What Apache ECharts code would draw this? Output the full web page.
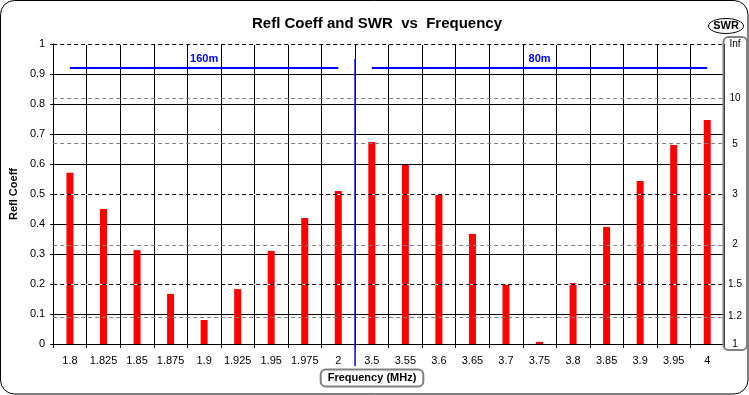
<!DOCTYPE html>
<html><head><meta charset="utf-8">
<script src="https://cdn.jsdelivr.net/npm/echarts@6/dist/echarts.min.js"></script>
<style>html,body{margin:0;padding:0;background:#fff}#c{width:749px;height:395px}</style>
</head><body><div id="c"></div>
<script>
const categories = ['1.8','1.825','1.85','1.875','1.9','1.925','1.95','1.975','2','3.5','3.55','3.6','3.65','3.7','3.75','3.8','3.85','3.9','3.95','4'];
const reflCoeff = [0.571,0.450,0.313,0.167,0.080,0.183,0.310,0.420,0.510,0.673,0.597,0.497,0.367,0.198,0.007,0.203,0.390,0.543,0.663,0.747];
const swrLabels = ['1','1.2','1.5','2','3','5','10','Inf'];
const swrValues = [1,1.2,1.5,2,3,5,10,Infinity];
const bandNames = ['160m','80m'];
const bandStart = ['1.8','3.5'];
const bandEnd = ['2','4'];
const bandLevel = 0.92;

const FONT = '"Liberation Sans", Arial, sans-serif';
const swrPos = swrValues.map(s => isFinite(s) ? (s - 1) / (s + 1) : 1);
const coincide = v => Math.abs(v * 10 - Math.round(v * 10)) < 1e-6;

const chart = echarts.init(document.getElementById('c'), null, {renderer: 'canvas'});

const swrLineData = [];
swrPos.forEach((p, i) => {
  if (coincide(p) && p > 0) {
    swrLineData.push({yAxis: p, lineStyle: {color: '#ffffff', type: 'solid', width: 1}});
  }
});
swrPos.forEach((p, i) => {
  if (p > 0) {
    swrLineData.push({yAxis: p, lineStyle: {color: coincide(p) ? '#000000' : '#808080', type: [4, 3], width: 1}});
  }
});

const bandData = bandNames.map((n, i) => [
  {coord: [bandStart[i], bandLevel], name: n},
  {coord: [bandEnd[i], bandLevel]}
]);

chart.setOption({
  animation: false,
  backgroundColor: '#ffffff',
  textStyle: {fontFamily: FONT},
  title: {
    text: 'Refl Coeff and SWR  vs  Frequency',
    left: 372, top: 11, textAlign: 'center',
    textStyle: {fontFamily: FONT, fontSize: 15, fontWeight: 'bold', color: '#000'}
  },
  grid: {left: 50, right: 25, top: 44, bottom: 51, containLabel: false},
  xAxis: {
    type: 'category', data: categories, boundaryGap: true,
    axisLine: {lineStyle: {color: '#000', width: 1}},
    axisTick: {show: true, length: 4, lineStyle: {color: '#000'}},
    axisLabel: {color: '#000', fontSize: 11, fontFamily: FONT, margin: 11, interval: 0},
    splitLine: {show: true, interval: 0, lineStyle: {color: '#000', width: 1}}
  },
  yAxis: [{
    type: 'value', min: 0, max: 1, interval: 0.1,
    name: 'Refl Coeff', nameLocation: 'middle', nameGap: 31,
    nameTextStyle: {fontWeight: 'bold', fontSize: 11, color: '#000', fontFamily: FONT},
    axisLine: {show: true, lineStyle: {color: '#000'}},
    axisTick: {show: true, length: 3, lineStyle: {color: '#000'}},
    axisLabel: {color: '#000', fontSize: 11, fontFamily: FONT, margin: 8},
    splitLine: {show: true, showMaxLine: false, lineStyle: {color: '#000', width: 1}}
  }, {
    type: 'value', min: 0, max: 1, position: 'right',
    axisLine: {show: false}, axisTick: {show: false}, splitLine: {show: false},
    axisLabel: {
      show: true, customValues: swrPos, color: '#000', fontSize: 10, fontFamily: FONT,
      align: 'center', margin: 11,
      formatter: v => { const i = swrPos.findIndex(p => Math.abs(p - v) < 1e-6); return i >= 0 ? swrLabels[i] : ''; }
    }
  }],
  series: [{
    type: 'line', data: [], z: 1, silent: true,
    markLine: {
      silent: true, symbol: ['none', 'none'], label: {show: false},
      animation: false, data: swrLineData
    }
  }, {
    type: 'bar', data: reflCoeff, barWidth: 7, z: 3,
    itemStyle: {color: '#ff0000'}, silent: true,
    markLine: {
      silent: true, symbol: ['none', 'none'], animation: false,
      lineStyle: {color: '#0000ff', width: 2, type: 'solid'},
      label: {show: true, position: 'insideMiddleTop', distance: 4, formatter: p => p.name,
        color: '#0000ff', fontWeight: 'bold', fontSize: 11, fontFamily: FONT},
      data: bandData
    }
  }]
});

const xa = chart.convertToPixel({xAxisIndex: 0}, categories[8]);
const xb = chart.convertToPixel({xAxisIndex: 0}, categories[9]);
const xSep = (xa + xb) / 2;
const yTop = chart.convertToPixel({yAxisIndex: 0}, 0.95);
const yBot = chart.convertToPixel({yAxisIndex: 0}, -0.073);
const y0 = chart.convertToPixel({yAxisIndex: 0}, 0);
const y1 = chart.convertToPixel({yAxisIndex: 0}, 1);

chart.setOption({
  graphic: [
    {id: 'outer', type: 'rect', shape: {x: 0.5, y: 0.5, width: 747.5, height: 393.5, r: 14},
      style: {fill: 'none', stroke: '#000', lineWidth: 1}, z: 0, silent: true},
    {id: 'sep', type: 'line', shape: {x1: xSep, y1: yTop, x2: xSep, y2: yBot},
      style: {stroke: '#0000ff', lineWidth: 1.5}, z: 10, silent: true},
    {id: 'swrpanel', type: 'rect', shape: {x: 723.5, y: y1 - 7, width: 23.5, height: (y0 - y1) + 13, r: 5},
      style: {fill: 'none', stroke: '#808080', lineWidth: 2}, z: 10, silent: true},
    {id: 'swrellipse', type: 'ellipse', shape: {cx: 726, cy: 26, rx: 17.5, ry: 7.5},
      style: {fill: '#fff', stroke: '#000', lineWidth: 1}, z: 10, silent: true},
    {id: 'swrtext', type: 'text', x: 726, y: 26, z: 11, silent: true,
      style: {text: 'SWR', font: 'bold 11px ' + FONT, fill: '#000', align: 'center', verticalAlign: 'middle'}},
    {id: 'xname', type: 'text', x: 372, y: 378, z: 11, silent: true,
      style: {text: 'Frequency (MHz)', font: 'bold 11px ' + FONT, fill: '#000', align: 'center', verticalAlign: 'middle',
        backgroundColor: '#fff', borderColor: '#808080', borderWidth: 2, borderRadius: 4, padding: [2, 6, 2, 6]}}
  ]
});
</script>
</body></html>
